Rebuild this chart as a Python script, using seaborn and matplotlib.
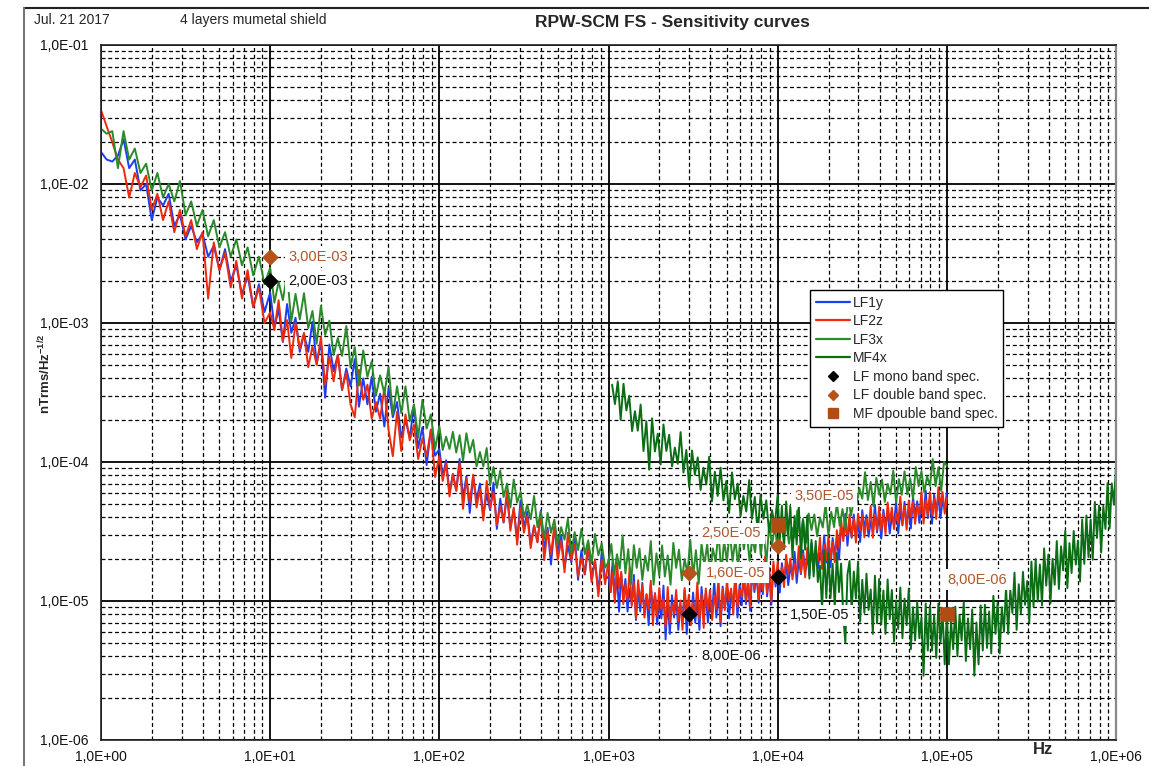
import numpy as np
import pandas as pd
import matplotlib
matplotlib.use("Agg")
import matplotlib.pyplot as plt
import seaborn as sns
from matplotlib.lines import Line2D
from matplotlib.ticker import LogLocator, FuncFormatter, NullFormatter

# ---------------------------------------------------------------------------
# Measured noise spectra (nT rms / sqrt(Hz)), one list per frequency decade.
# Suffix _e5 -> values in 1e-5 units, _u -> values in 1e-6 units.
# ---------------------------------------------------------------------------
E5 = 1e-5
U = 1e-6

# LF1y
lf1y_1_10 = [1.7e-2, 1.5e-2, 1.45e-2, 1.6e-2, 2.1e-2, 1.3e-2, 1.5e-2, 9.0e-3, 1.0e-2, 5.5e-3,
             8.0e-3, 7.0e-3, 8.5e-3, 5.0e-3, 6.0e-3, 4.0e-3, 5.0e-3, 3.8e-3, 4.4e-3, 3.0e-3,
             3.6e-3, 2.4e-3, 3.4e-3, 2.0e-3, 2.6e-3, 1.6e-3, 2.2e-3, 1.3e-3, 1.9e-3, 1.2e-3]
lf1y_10_100 = [1.66e-3, 9.4e-4, 1.25e-3, 7.3e-4, 1.37e-3, 8.5e-4, 1.09e-3, 6.2e-4, 8.3e-4, 6.2e-4,
               1.02e-3, 5.1e-4, 7.3e-4, 2.9e-4, 7.0e-4, 4.5e-4, 5.9e-4, 3.3e-4, 4.7e-4, 3.5e-4,
               5.5e-4, 2.5e-4, 4.0e-4, 2.6e-4, 4.1e-4, 2.3e-4, 3.1e-4, 1.8e-4, 3.4e-4, 2.1e-4,
               2.7e-4, 1.5e-4, 2.0e-4, 1.5e-4, 2.5e-4, 1.26e-4, 1.78e-4, 9.5e-5, 1.71e-4, 1.11e-4]
lf1y_100_1k_e5 = [12.4, 7.9, 10.3, 6.0, 8.2, 6.25, 10.5, 5.5, 7.9, 4.3,
                  7.9, 5.3, 7.0, 4.1, 5.9, 4.5, 7.1, 3.3, 5.45, 3.66,
                  5.8, 3.37, 4.6, 2.74, 5.3, 3.36, 4.4, 2.55, 3.49, 2.66,
                  4.48, 2.32, 3.37, 1.83, 3.38, 2.25, 2.99, 1.74, 2.51, 1.90,
                  3.02, 1.42, 2.31, 1.55, 2.47, 1.43, 1.96, 1.16, 2.24, 1.43]
lf1y_1k_10k_u = [15.0, 11.6, 19.9, 10.5, 15.3, 8.4, 15.8, 10.7, 14.4, 8.4,
                 12.3, 9.5, 15.4, 7.3, 12.2, 8.4, 13.5, 8.0, 11.1, 6.7,
                 13.1, 8.6, 11.4, 6.8, 9.5, 7.5, 12.9, 5.3, 10.3, 5.8,
                 11.0, 7.6, 10.4, 6.2, 9.3, 7.3, 12.0, 5.8, 9.8, 6.9,
                 11.5, 7.0, 10.0, 6.2, 12.6, 8.4, 11.4, 7.0, 10.0, 8.0,
                 14.1, 7.6, 11.6, 6.6, 12.7, 8.9, 12.3, 7.5, 11.4, 9.2,
                 15.4, 7.6, 13.1, 9.3, 15.6, 9.5, 13.7, 8.5, 17.3, 11.6,
                 15.9, 9.7, 14.0, 11.2, 19.9, 10.8, 16.5, 9.4, 18.1, 12.7]
lf1y_10k_100k_u = [17.0, 11.5, 18.7, 14.3, 18.6, 13.0, 17.8, 15.2, 22.6, 13.5,
                   19.9, 15.6, 23.2, 16.0, 21.3, 15.3, 26.1, 19.1, 24.3, 17.0,
                   22.2, 18.9, 29.6, 18.9, 25.9, 17.5, 28.4, 21.6, 27.9, 19.9,
                   33.9, 28.7, 42.4, 25.0, 36.9, 28.5, 41.9, 28.6, 37.4, 26.6,
                   45.0, 32.7, 41.5, 29.0, 37.5, 31.7, 49.2, 31.1, 42.0, 28.1,
                   45.4, 34.3, 44.2, 30.6, 41.3, 35.1, 51.7, 30.6, 45.2, 35.0,
                   51.7, 35.4, 46.5, 33.3, 56.2, 41.0, 52.2, 36.5, 47.4, 40.1,
                   62.4, 39.5, 53.7, 36.0, 58.2, 44.1, 56.9, 39.5, 53.4, 45.3,
                   60.0]

# LF2z
lf2z_1_10 = [3.4e-2, 2.6e-2, 2.0e-2, 1.5e-2, 1.3e-2, 8.0e-3, 1.2e-2, 9.5e-3, 1.15e-2, 6.5e-3,
             8.5e-3, 5.5e-3, 7.5e-3, 4.5e-3, 6.5e-3, 4.2e-3, 5.5e-3, 3.4e-3, 4.5e-3, 1.5e-3,
             3.8e-3, 2.4e-3, 3.2e-3, 1.8e-3, 2.8e-3, 1.5e-3, 2.4e-3, 1.3e-3, 1.8e-3, 1.0e-3]
lf2z_10_100 = [1.19e-3, 8.9e-4, 1.46e-3, 7.4e-4, 1.05e-3, 5.6e-4, 1.0e-3, 6.5e-4, 8.5e-4, 4.8e-4,
               6.8e-4, 5.0e-4, 7.9e-4, 3.6e-4, 5.7e-4, 3.8e-4, 5.9e-4, 3.3e-4, 4.4e-4, 2.6e-4,
               2.1e-4, 4.6e-4, 2.8e-4, 3.6e-4, 2.05e-4, 2.7e-4, 2.05e-4, 3.4e-4, 1.7e-4, 1.1e-4,
               2.3e-4, 1.2e-4, 2.2e-4, 1.43e-4, 1.85e-4, 1.05e-4, 1.48e-4, 1.1e-4, 1.71e-4, 7.8e-5]
lf2z_100_1k_e5 = [11.0, 7.3, 9.8, 5.65, 8.2, 6.2, 9.9, 4.6, 7.6, 5.1,
                  8.1, 4.7, 6.4, 3.8, 7.3, 4.65, 6.1, 3.5, 4.8, 3.7,
                  6.2, 3.2, 4.7, 2.54, 4.7, 3.1, 4.1, 2.4, 3.48, 2.64,
                  4.2, 1.97, 3.2, 2.16, 3.43, 1.98, 2.71, 1.61, 3.1, 1.97,
                  2.58, 1.50, 2.05, 1.56, 2.62, 1.37, 1.99, 1.08, 1.98, 1.32]
lf2z_1k_10k_u = [19.8, 11.6, 16.1, 9.7, 19.0, 12.3, 16.2, 9.5, 13.2, 10.2,
                 17.4, 9.2, 13.6, 7.5, 14.1, 9.6, 13.0, 7.6, 11.2, 8.7,
                 14.0, 6.7, 11.3, 7.8, 12.4, 8.7, 10.3, 6.5, 12.6, 7.0,
                 9.4, 8.1, 12.0, 7.2, 10.1, 6.2, 12.4, 8.2, 11.1, 6.7,
                 9.7, 7.7, 13.6, 7.4, 11.2, 6.4, 12.3, 8.6, 12.0, 7.3,
                 11.0, 8.8, 14.6, 7.1, 12.2, 8.6, 14.0, 10.1, 12.3, 8.0,
                 15.7, 9.0, 12.2, 10.7, 16.4, 10.0, 14.3, 9.0, 18.2, 12.2,
                 16.7, 10.2, 14.7, 11.8, 20.9, 11.4, 17.3, 9.9, 19.2, 13.4]
lf2z_10k_100k_u = [19.2, 13.3, 17.5, 12.6, 21.5, 15.8, 20.2, 14.3, 18.6, 15.8,
                   24.8, 15.9, 21.8, 14.8, 24.1, 18.5, 23.9, 16.7, 22.7, 19.3,
                   28.6, 17.0, 25.3, 19.7, 29.3, 20.2, 26.6, 19.0, 32.3, 24.2,
                   38.6, 27.0, 34.9, 29.5, 42.0, 29.0, 39.3, 26.3, 42.5, 32.1,
                   41.4, 28.7, 38.8, 32.8, 48.4, 28.5, 42.0, 32.4, 47.6, 32.5,
                   42.5, 30.3, 51.1, 37.1, 47.0, 32.9, 42.6, 36.1, 56.3, 35.7,
                   48.6, 32.6, 52.8, 40.1, 51.8, 35.9, 48.8, 41.4, 61.1, 36.1,
                   53.3, 41.2, 60.8, 41.6, 54.5, 38.9, 65.8, 47.9, 60.8, 42.5,
                   55.1]

# LF3x
lf3x_1_10 = [2.5e-2, 2.3e-2, 2.4e-2, 1.3e-2, 2.4e-2, 1.5e-2, 1.8e-2, 1.2e-2, 1.4e-2, 9.0e-3,
             1.2e-2, 8.0e-3, 1.0e-2, 7.5e-3, 1.05e-2, 6.0e-3, 7.5e-3, 5.0e-3, 6.5e-3, 4.2e-3,
             5.5e-3, 3.5e-3, 4.5e-3, 3.0e-3, 4.0e-3, 2.6e-3, 3.5e-3, 2.2e-3, 3.0e-3, 1.9e-3]
lf3x_10_100 = [2.5e-3, 1.4e-3, 1.98e-3, 1.46e-3, 2.25e-3, 1.03e-3, 1.62e-3, 1.06e-3, 1.64e-3, 9.2e-4,
               1.22e-3, 7.1e-4, 1.33e-3, 8.2e-4, 1.04e-3, 5.9e-4, 7.8e-4, 5.8e-4, 9.5e-4, 4.8e-4,
               6.7e-4, 3.55e-4, 6.35e-4, 4.1e-4, 5.3e-4, 3.0e-4, 4.2e-4, 3.1e-4, 4.8e-4, 2.2e-4,
               3.5e-4, 2.25e-4, 3.5e-4, 1.96e-4, 2.6e-4, 1.5e-4, 2.8e-4, 1.74e-4, 2.2e-4, 1.24e-4]
lf3x_100_1k_e5 = [18.1, 12.2, 15.2, 12.4, 16.5, 11.7, 15.6, 10.2, 16.1, 11.7,
                  14.4, 9.3, 11.8, 9.3, 12.6, 6.8, 9.2, 6.5, 8.7, 5.6,
                  7.0, 4.7, 7.5, 5.1, 6.1, 4.0, 4.9, 3.87, 5.7, 3.4,
                  4.4, 2.8, 4.3, 3.1, 3.85, 2.57, 3.4, 2.76, 3.9, 2.2,
                  3.13, 2.33, 3.3, 2.17, 2.73, 1.87, 3.04, 2.13, 2.6, 1.74]
lf3x_1k_10k_u = [19.1, 25.7, 15.4, 21.7, 17.1, 29.6, 15.8, 23.6, 13.3, 25.2,
                 17.3, 23.8, 14.2, 21.2, 16.5, 27.0, 13.1, 22.0, 15.2, 25.1,
                 15.0, 21.3, 13.1, 26.2, 17.3, 23.4, 14.1, 20.0, 15.8, 27.6,
                 15.1, 23.2, 13.3, 25.8, 18.2, 25.6, 15.6, 23.9, 19.1, 31.9,
                 15.8, 27.1, 19.2, 32.1, 19.4, 27.9, 17.4, 35.2, 23.5, 32.1,
                 19.5, 28.0, 22.4, 39.6, 21.5, 32.6, 18.6, 35.9, 25.1, 34.8]
lf3x_10k_100k_u = [23.1, 39.3, 28.8, 36.9, 25.9, 33.8, 28.7, 44.9, 28.6, 39.0,
                   26.3, 42.6, 32.4, 42.0, 29.2, 39.8, 33.8, 50.1, 29.6, 43.8,
                   34.0, 50.5, 34.8, 45.9, 33.0, 56.1, 41.1, 52.7, 50.2, 64.8,
                   54.5, 84.4, 53.2, 71.9, 48.0, 77.2, 58.1, 74.8, 51.6, 69.5,
                   58.7, 86.6, 51.1, 75.3, 58.1, 85.6, 58.5, 76.5, 54.5, 92.1,
                   67.0, 85.8, 60.4, 78.9, 67.2, 105.0, 67.0, 91.6, 61.8, 100.0,
                   94.0]

# MF4x (starts at 1.05 kHz)
mf4x_1k_10k_u = [360, 261, 380, 201, 365, 235, 300, 167, 232, 168,
                 259, 120, 196, 88, 206, 119, 160, 96, 186, 120,
                 157, 93, 127, 97, 164, 84, 122, 66, 121, 81,
                 108, 63, 91, 69, 109, 52, 85, 57, 91, 53,
                 73, 43, 84, 54, 70, 41, 57, 44, 74, 39,
                 56, 31, 58, 39, 53, 31, 45, 35]
mf4x_10k_100k_u = [58.0, 27.5, 48.4, 23.6, 52.0, 30.1, 48.6, 20.5, 40.9, 25.5,
                   48.6, 20.3, 37.8, 23.4, 41.3, 14.5, 27.5, 15.0, 27.0, 13.7,
                   17.9, 8.7, 23.1, 10.5, 22.0, 10.5, 18.5, 9.0, 22.2, 11.6,
                   18.6, 7.9, 5.0, 15.5, 19.4, 8.4, 16.3, 10.4, 19.2, 7.1,
                   14.2, 8.2, 15.7, 8.6, 12.1, 5.8, 15.2, 6.9, 14.4, 6.8,
                   11.9, 5.8, 14.3, 7.4, 12.0, 5.1, 10.1, 6.3, 12.5, 5.4,
                   10.4, 6.7, 12.3, 4.5, 9.0, 5.2, 9.9, 5.4, 7.6, 2.9,
                   9.6, 4.4, 9.3, 4.4, 7.9, 3.9, 9.6, 5.0, 8.2, 3.5]
mf4x_100k_1m_u = [8.1, 3.5, 7.1, 4.5, 9.1, 4.0, 7.9, 5.2, 9.8, 3.7,
                  7.5, 4.5, 8.7, 2.9, 7.0, 3.5, 9.3, 4.4, 9.4, 4.6,
                  8.4, 4.2, 10.9, 5.8, 9.7, 4.2, 9.0, 6.0, 12.6, 5.8,
                  12.0, 8.2, 16.0, 6.2, 13.2, 8.1, 16.2, 9.4, 13.9, 7.0,
                  19.2, 9.1, 20.0, 9.9, 18.3, 9.3, 23.9, 12.9, 21.6, 9.6,
                  20.1, 13.1, 27.0, 12.2, 24.7, 16.6, 32.0, 12.4, 26.1, 15.9,
                  31.9, 18.3, 27.2, 13.8, 38.5, 18.5, 41.2, 20.7, 38.5, 19.8,
                  51.6, 28.4, 48.6, 22.3, 48.4, 33.0, 70.5, 33.3, 70.2, 49.3,
                  93.0]

# Specification points
mono_freq = [10, 3000, 10000]
mono_val = [2.0e-3, 8.0e-6, 1.5e-5]
double_freq = [10, 3000, 10000]
double_val = [3.0e-3, 1.6e-5, 2.5e-5]
mf_freq = [10000, 100000]
mf_val = [3.5e-5, 8.0e-6]

series_names = ["LF1y", "LF2z", "LF3x", "MF4x"]
series_colors = ["#1c3cf5", "#ee2a0c", "#2b8a2b", "#0b6e14"]

y_ticks = [1e-6, 1e-5, 1e-4, 1e-3, 1e-2, 1e-1]
x_ticks = [1, 10, 100, 1e3, 1e4, 1e5, 1e6]


def scaled(values, unit):
    return [v * unit for v in values]


def decade(values, f0, f1, last=False):
    return np.geomspace(f0, f1, len(values), endpoint=last), np.asarray(values)


def spectrum(name, parts):
    f = np.concatenate([p[0] for p in parts])
    v = np.concatenate([p[1] for p in parts])
    return pd.DataFrame({"freq": f, "value": v, "series": name})


lf_edges = [(1, 10), (10, 100), (100, 1e3), (1e3, 1e4), (1e4, 1e5)]


def lf_curve(name, lists):
    parts = [decade(vals, a, b, last=(i == len(lists) - 1))
             for i, (vals, (a, b)) in enumerate(zip(lists, lf_edges))]
    return spectrum(name, parts)


df = pd.concat([
    lf_curve("LF1y", [lf1y_1_10, lf1y_10_100, scaled(lf1y_100_1k_e5, E5),
                      scaled(lf1y_1k_10k_u, U), scaled(lf1y_10k_100k_u, U)]),
    lf_curve("LF2z", [lf2z_1_10, lf2z_10_100, scaled(lf2z_100_1k_e5, E5),
                      scaled(lf2z_1k_10k_u, U), scaled(lf2z_10k_100k_u, U)]),
    lf_curve("LF3x", [lf3x_1_10, lf3x_10_100, scaled(lf3x_100_1k_e5, E5),
                      scaled(lf3x_1k_10k_u, U), scaled(lf3x_10k_100k_u, U)]),
    spectrum("MF4x", [decade(scaled(mf4x_1k_10k_u, U), 1050, 1e4),
                      decade(scaled(mf4x_10k_100k_u, U), 1e4, 1e5),
                      decade(scaled(mf4x_100k_1m_u, U), 1e5, 1e6, last=True)]),
], ignore_index=True)

sns.set_style("white")
plt.rcParams["font.family"] = ["Liberation Sans", "DejaVu Sans"]
plt.rcParams["mathtext.fontset"] = "custom"
plt.rcParams["mathtext.rm"] = "Liberation Sans"
plt.rcParams["mathtext.bf"] = "Liberation Sans:bold"

fig = plt.figure(figsize=(11.49, 7.66), dpi=100)
ax = fig.add_axes([101 / 1149, 1 - 740 / 766, 1015 / 1149, 695 / 766])
ax.set_xscale("log")
ax.set_yscale("log")

# grid: solid decades, dashed sub-decades
ax.xaxis.set_minor_locator(LogLocator(base=10, subs=np.arange(2, 10), numticks=100))
ax.yaxis.set_minor_locator(LogLocator(base=10, subs=np.arange(2, 10), numticks=100))
ax.xaxis.set_minor_formatter(NullFormatter())
ax.yaxis.set_minor_formatter(NullFormatter())
ax.grid(which="major", color="black", lw=1.3, ls="-", zorder=0)
ax.grid(which="minor", color="black", lw=0.9, ls=(0, (3.2, 2.2)), zorder=0)
ax.set_axisbelow(True)

sns.lineplot(data=df, x="freq", y="value", hue="series", hue_order=series_names,
             palette=dict(zip(series_names, series_colors)), estimator=None, sort=False,
             linewidth=1.4, legend=False, ax=ax)

diamond_brown = "#b5531b"
square_brown = "#b04c14"
sns.scatterplot(x=double_freq, y=double_val, marker="D", s=62, color=diamond_brown,
                edgecolor=diamond_brown, linewidth=0.5, zorder=8, ax=ax)
sns.scatterplot(x=mono_freq, y=mono_val, marker="D", s=62, color="black",
                edgecolor="black", linewidth=0.5, zorder=8, ax=ax)
sns.scatterplot(x=mf_freq, y=mf_val, marker="s", s=110, color=square_brown,
                edgecolor=square_brown, linewidth=0.5, zorder=8, ax=ax)

ax.set_xlim(1, 1e6)
ax.set_ylim(1e-6, 1e-1)


def fmt_sci(v):
    return f"{v:.2E}".replace(".", ",")


label_brown = "#b0562b"
box = dict(boxstyle="square,pad=0.25", fc="white", ec="none")
annots = [
    (double_freq[0], double_val[0], label_brown, (13, 0), "left"),
    (mono_freq[0], mono_val[0], "#111111", (13, 0), "left"),
    (mono_freq[1], mono_val[1], "#111111", (30, -30), "center"),
    (mono_freq[2], mono_val[2], "#111111", (9, -28), "left"),
    (double_freq[1], double_val[1], label_brown, (12, 0), "left"),
    (double_freq[2], double_val[2], label_brown, (-12, 9), "right"),
    (mf_freq[0], mf_val[0], label_brown, (12, 21), "left"),
    (mf_freq[1], mf_val[1], label_brown, (22, 25), "center"),
]
for fx, fy, col, off, ha in annots:
    ax.annotate(fmt_sci(fy), (fx, fy), xytext=off, textcoords="offset points",
                ha=ha, va="center", fontsize=10.5, color=col, bbox=box, zorder=9)

# axes, ticks
ax.set_xticks(x_ticks)
ax.set_yticks(y_ticks)
sci1 = FuncFormatter(lambda v, p: f"{v:.1E}".replace(".", ","))
ax.xaxis.set_major_formatter(sci1)
ax.yaxis.set_major_formatter(sci1)
ax.tick_params(which="major", direction="out", length=4, width=1, labelsize=10,
               colors="#111111")
ax.tick_params(axis="x", which="major", pad=3)
ax.tick_params(axis="y", which="major", pad=5)
ax.tick_params(which="minor", length=0)
for side in ["left", "bottom", "top"]:
    ax.spines[side].set_color("#222222")
    ax.spines[side].set_linewidth(1.2)
ax.spines["right"].set_color("#888888")
ax.spines["right"].set_linewidth(1.6)
ax.set_xlabel("")
ax.set_ylabel("")

# legend
handles = [Line2D([], [], color=c, lw=1.6) for c in series_colors]
handles += [
    Line2D([], [], ls="none", marker="D", ms=5, color="black"),
    Line2D([], [], ls="none", marker="D", ms=5, color=diamond_brown),
    Line2D([], [], ls="none", marker="s", ms=6.5, color=square_brown),
]
labels = series_names + ["LF mono band spec.", "LF double band spec.", "MF dpouble band spec."]
leg = ax.legend(handles, labels, loc="upper left", bbox_to_anchor=(0.6985, 0.6475),
                fontsize=10, frameon=True, fancybox=False, framealpha=1,
                edgecolor="black", handlelength=2.5, handletextpad=0.2,
                labelspacing=0.33, borderpad=0.4, borderaxespad=0)
leg.get_frame().set_linewidth(1.0)
leg.set_zorder(10)

# page texts
fig.text(34 / 1149, 1 - 20 / 766, "Jul. 21 2017", fontsize=10, va="center", ha="left")
fig.text(180 / 1149, 1 - 20 / 766, "4 layers mumetal shield", fontsize=10, va="center", ha="left")
fig.text(672 / 1149, 1 - 22 / 766, "RPW-SCM FS - Sensitivity curves", fontsize=12.5,
         fontweight="bold", va="center", ha="center")
fig.text(45 / 1149, 1 - 374 / 766, r"$\mathbf{nTrms/Hz^{-1/2}}$", fontsize=9.5,
         rotation=90, va="center", ha="center")
fig.text(1043 / 1149, 1 - 750 / 766, "Hz", fontsize=12, fontweight="bold",
         va="center", ha="center")

# page frame
fig.add_artist(Line2D([24 / 1149, 1], [1 - 8 / 766, 1 - 8 / 766], transform=fig.transFigure,
                      color="#222222", lw=1.5))
fig.add_artist(Line2D([24 / 1149, 24 / 1149], [0, 1 - 8 / 766], transform=fig.transFigure,
                      color="#777777", lw=1.5))

fig.savefig("out.png", dpi=100)
